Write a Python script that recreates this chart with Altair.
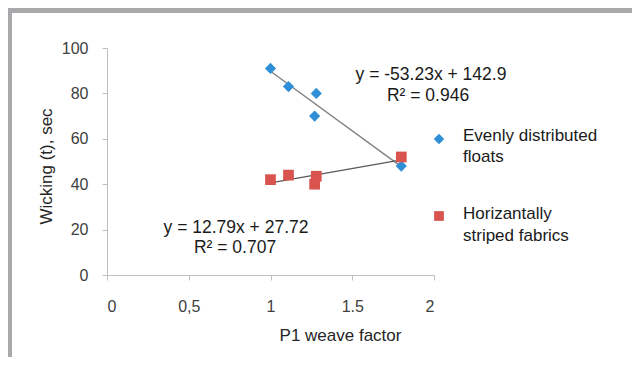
import altair as alt
import pandas as pd

# ---- data ----
series_names = ["Evenly distributed floats", "Horizantally striped fabrics"]
legend_lines = [["Evenly distributed", "floats"], ["Horizantally", "striped fabrics"]]
weave_factor = [1.00, 1.11, 1.27, 1.28, 1.80]
wicking_even = [91, 83, 70, 80, 48]
wicking_striped = [42, 44, 40, 43.5, 52]
eq_even = ["y = -53.23x + 142.9", "R² = 0.946"]
eq_striped = ["y = 12.79x + 27.72", "R² = 0.707"]
x_ticks = [0, 0.5, 1, 1.5, 2]
y_ticks = [0, 20, 40, 60, 80, 100]

BLUE = "#2f8fd6"
RED = "#d9534f"
FONT = "Liberation Sans"

rows = []
for xv, yv in zip(weave_factor, wicking_even):
    rows.append({"x": xv, "y": yv, "series": series_names[0]})
for xv, yv in zip(weave_factor, wicking_striped):
    rows.append({"x": xv, "y": yv, "series": series_names[1]})
df = pd.DataFrame(rows)

xscale = alt.Scale(domain=[0, 2], nice=False, zero=False)
yscale = alt.Scale(domain=[0, 100], nice=False)

xenc = alt.X("x:Q", scale=xscale, title="P1 weave factor",
             axis=alt.Axis(values=x_ticks, grid=False,
                           labelExpr="datum.value == 0.5 ? '0,5' : '' + datum.value",
                           tickSize=5, labelPadding=18, labelFontSize=16,
                           titleX=233, titleY=60, titleBaseline="middle",
                           titleAlign="center"))
yenc = alt.Y("y:Q", scale=yscale, title="Wicking (t), sec",
             axis=alt.Axis(values=y_ticks, grid=False, tickSize=5,
                           labelPadding=14, labelFontSize=16,
                           titleX=-61, titleY=118, titleBaseline="middle",
                           titleAlign="center"))

base = alt.Chart(df)

even = base.transform_filter(alt.datum.series == series_names[0])
striped = base.transform_filter(alt.datum.series == series_names[1])

even_pts = even.mark_point(shape="diamond", filled=True, size=125, opacity=1,
                           color=BLUE).encode(x=xenc, y=yenc)
striped_pts = striped.mark_square(size=115, opacity=1, color=RED).encode(x=xenc, y=yenc)

even_fit = even.transform_regression("x", "y").mark_line(
    color="#7f7f7f", strokeWidth=1.3).encode(x=xenc, y=yenc)
striped_fit = striped.transform_regression("x", "y").mark_line(
    color="#595959", strokeWidth=1.3).encode(x=xenc, y=yenc)

one = alt.Data(values=[{}])

def label(text, px, py, size=17.5, align="center", color="#1a1a1a"):
    return alt.Chart(one).mark_text(text=text, font=FONT, fontSize=size,
                                    align=align, baseline="middle", color=color
                                    ).encode(x=alt.value(px), y=alt.value(py))

# plot origin is page (107, 48)
ann = [
    label(eq_even[0], 431 - 107, 75 - 48),
    label(eq_even[1], 428 - 107, 96 - 48),
    label(eq_striped[0], 236 - 107, 228 - 48),
    label(eq_striped[1], 235 - 107, 248 - 48),
]

legend = [
    alt.Chart(one).mark_point(shape="diamond", filled=True, size=110, opacity=1,
                              color=BLUE).encode(x=alt.value(439 - 107), y=alt.value(139 - 48)),
    alt.Chart(one).mark_square(size=95, opacity=1, color=RED).encode(
        x=alt.value(439 - 107), y=alt.value(216 - 48)),
    label(legend_lines[0][0], 463 - 107, 136 - 48, size=17, align="left"),
    label(legend_lines[0][1], 463 - 107, 157 - 48, size=17, align="left"),
    label(legend_lines[1][0], 463 - 107, 214 - 48, size=17, align="left"),
    label(legend_lines[1][1], 463 - 107, 236 - 48, size=17, align="left"),
]

frame = [
    alt.Chart(one).mark_rect(color="#a9a9ab").encode(
        x=alt.value(-99), x2=alt.value(525), y=alt.value(-40), y2=alt.value(-35)),
    alt.Chart(one).mark_rect(color="#a9a9ab").encode(
        x=alt.value(-99), x2=alt.value(-95), y=alt.value(-40), y2=alt.value(309)),
]

chart = alt.layer(
    *frame, even_fit, striped_fit, even_pts, striped_pts, *ann, *legend
).properties(
    width=327, height=227,
    autosize=alt.AutoSizeParams(type="none"),
    padding={"left": 99, "top": 40, "right": 198, "bottom": 82},
    background="white",
).configure_view(stroke=None).configure_axis(
    domainColor="#bfbfbf", tickColor="#bfbfbf", labelColor="#404040",
    titleColor="#262626", labelFont=FONT, titleFont=FONT,
    titleFontSize=17, titleFontWeight="normal",
)

chart.save("out.html", embed_options={"renderer": "svg", "actions": False})
